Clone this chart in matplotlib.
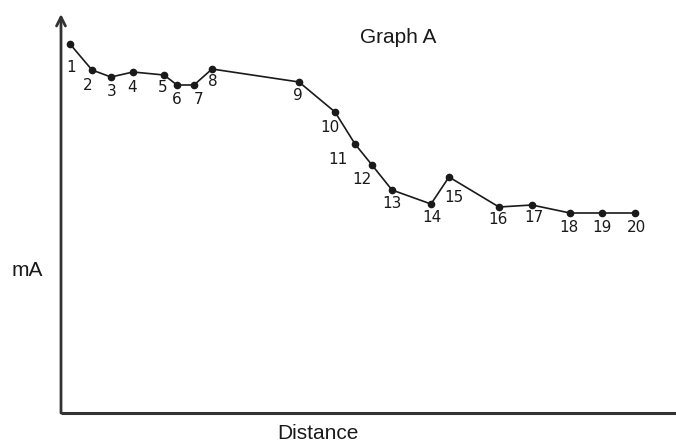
import matplotlib
matplotlib.use("Agg")
from matplotlib import pyplot as plt

# readings along the line (distance, mA) in arbitrary units
point_ids = [str(i) for i in range(1, 21)]
distance = [9, 31, 50, 72, 103, 116, 133, 151, 238, 274,
            294, 311, 331, 370, 388, 438, 471, 509, 541, 574]
current = [369, 343, 336, 341, 338, 328, 328, 344, 331, 301,
           269, 248, 223, 209, 236, 206, 208, 200, 200, 200]

# where each number sits relative to its dot (pixels)
lab_dx = [1, -4, 1, -1, -1, 0, 5, 1, -1, -5, -17, -10, 0, 1, 5, -1, 2, -1, 0, 2]
lab_dy = [-23, -16, -15, -16, -13, -14, -14, -12, -14, -15, -16, -15, -14, -14, -20, -13, -12, -14, -14, -15]

W, H = 676, 443
fig = plt.figure(figsize=(W / 100, H / 100), dpi=100)
x0, y0 = 61, 413   # origin in image pixels (from top)
ax = fig.add_axes([x0 / W, (H - y0) / H, (W - x0) / W, (y0 - 10) / H])
ax.set_xlim(0, W - x0)
ax.set_ylim(0, y0 - 10)
ax.axis("off")

axcol = "#333333"
# axes with open arrow heads
ax.annotate("", xy=(0, y0 - 14), xytext=(0, 0),
            arrowprops=dict(arrowstyle="->", color=axcol, lw=2, mutation_scale=16,
                            shrinkA=0, shrinkB=0), annotation_clip=False)
ax.plot([0, W - x0 + 5], [0, 0], color=axcol, lw=2.2, clip_on=False,
        solid_capstyle="butt")

ax.plot(distance, current, color="#1a1a1a", lw=1.2, marker="o", ms=4.5,
        clip_on=False)

for i, lab in enumerate(point_ids):
    ax.annotate(lab, (distance[i], current[i]), xytext=(lab_dx[i], lab_dy[i]),
                textcoords="offset pixels", ha="center", va="center",
                fontsize=11, color="#1a1a1a", family="DejaVu Sans")

fig.text(398 / W, 1 - 43 / H, "Graph A", ha="center", va="baseline",
         fontsize=15, family="Liberation Sans", color="#1a1a1a")
fig.text(27 / W, 1 - 276 / H, "mA", ha="center", va="baseline",
         fontsize=15, family="Liberation Sans", color="#1a1a1a")
fig.text(318 / W, 1 - 439 / H, "Distance", ha="center", va="baseline",
         fontsize=15, family="Liberation Sans", color="#1a1a1a")

fig.savefig("out.png", dpi=100)
